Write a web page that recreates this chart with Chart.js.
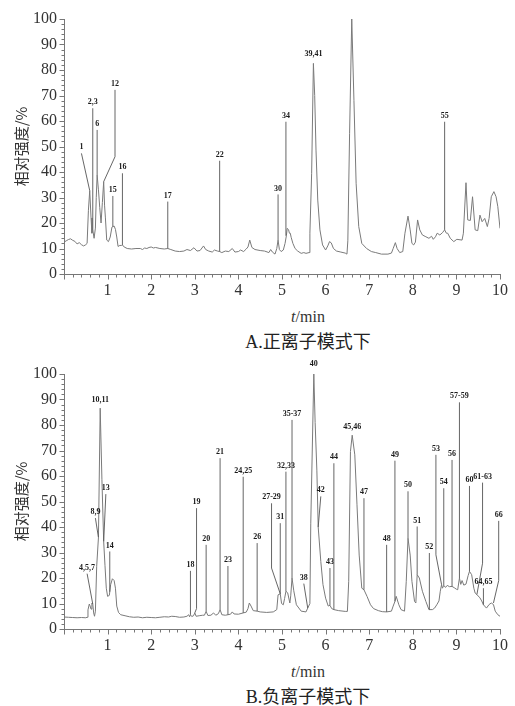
<!DOCTYPE html>
<html><head><meta charset="utf-8">
<script src="https://cdn.jsdelivr.net/npm/chart.js@4.4.1/dist/chart.umd.min.js"></script>
<style>
html,body{margin:0;padding:0;background:#fff;}
body{width:515px;height:706px;position:relative;overflow:hidden;}
.wrap{position:absolute;left:0;width:515px;height:300px;}
.wrap canvas{display:block;}
.xt{position:absolute;width:200px;margin-left:-100px;text-align:center;font-family:"Liberation Serif","DejaVu Serif";font-size:16px;color:#333;line-height:20px;}
.cap{position:absolute;width:240px;margin-left:-120px;text-align:center;font-family:"Liberation Serif","DejaVu Serif","Noto Sans CJK SC";font-size:18px;color:#222;line-height:22px;}
</style>
</head><body>
<div class="wrap" style="top:0"><canvas id="cA" width="515" height="300"></canvas></div>
<div class="xt" style="left:308px;top:307px"><i>t</i>/min</div>
<div class="cap" style="left:308px;top:331px">A.正离子模式下</div>
<div class="wrap" style="top:355px"><canvas id="cB" width="515" height="300"></canvas></div>
<div class="xt" style="left:308px;top:662px"><i>t</i>/min</div>
<div class="cap" style="left:308px;top:686px">B.负离子模式下</div>
<script>
// ---------- data: panel A (positive ion mode) ----------
const timeA = [0.00,0.05,0.10,0.15,0.20,0.25,0.30,0.35,0.40,0.45,0.50,0.53,0.56,0.59,0.62,0.64,0.66,0.69,0.72,0.74,0.76,0.79,0.82,0.85,0.88,0.91,0.93,0.95,0.98,1.02,1.06,1.10,1.12,1.15,1.18,1.21,1.24,1.28,1.32,1.34,1.38,1.45,1.55,1.65,1.75,1.80,1.85,1.90,1.95,2.00,2.05,2.10,2.20,2.30,2.38,2.45,2.55,2.65,2.75,2.82,2.90,2.98,3.05,3.12,3.20,3.25,3.32,3.40,3.45,3.52,3.57,3.62,3.70,3.78,3.86,3.92,4.00,4.05,4.12,4.18,4.22,4.26,4.31,4.38,4.50,4.60,4.70,4.74,4.78,4.84,4.88,4.91,4.94,4.98,5.03,5.07,5.10,5.12,5.15,5.17,5.19,5.21,5.25,5.30,5.36,5.44,5.50,5.55,5.62,5.64,5.68,5.72,5.75,5.78,5.82,5.87,5.93,6.00,6.05,6.09,6.13,6.18,6.25,6.35,6.45,6.49,6.51,6.55,6.60,6.65,6.70,6.76,6.83,6.94,7.05,7.15,7.28,7.43,7.51,7.55,7.60,7.64,7.70,7.77,7.82,7.89,7.94,7.98,8.02,8.06,8.11,8.16,8.22,8.30,8.37,8.43,8.47,8.52,8.56,8.62,8.68,8.73,8.77,8.80,8.86,8.94,9.01,9.13,9.16,9.22,9.26,9.32,9.37,9.43,9.49,9.54,9.59,9.65,9.71,9.75,9.80,9.86,9.91,9.95,10.00];
const intensityA = [12.5,13.0,13.5,13.8,13.2,12.8,11.8,12.3,11.5,11.0,11.5,12.0,25,32.7,22,16,17.3,14.0,18,30,38.8,33,26,20,28,36.2,27,22,13.3,12.7,14.5,18.4,18.6,18.8,17.5,14.5,10.8,11.2,11.2,11.4,10.6,10.0,9.8,10.0,10.0,9.6,10.2,10.0,10.4,10.6,10.2,10.4,10.0,9.8,10.0,9.6,9.0,8.8,9.0,9.6,9.2,10.3,9.0,9.2,11.0,9.6,9.0,8.6,9.4,9.0,8.8,8.4,9.0,8.8,10.0,8.6,8.8,9.4,8.8,9.8,10.6,13.3,10.4,9.6,9.2,9.0,8.4,9.6,8.6,7.8,10,13.3,9.6,8.8,9.4,12,15,17.9,17.4,16.0,16.0,14.4,12.0,10.0,9.0,8.1,8.4,8.1,8.4,16,39.5,82.6,70,48.6,29,17.3,11.4,9.4,11,12.7,12.2,10,9.0,8.6,8.2,7.8,13,55,100,68,35.6,18.6,12,10,8.8,8.4,7.8,7.8,8.2,10,12.3,10,8.4,8.8,16,22.7,17.3,12,11.4,12.5,21.2,17.3,15.3,14.6,14,14.8,13.6,14.6,16,15.3,16.2,17.3,16,16,14,12.7,13.6,13.3,16,35.8,21.2,21,30.3,17.3,17,23.1,20.5,21.8,18.6,21.8,30.3,32.3,30.3,26.4,17.9];
const peakLabelsA = ['1','2,3','6','12','15','16','17','22','30','34','39,41','55'];
const peakPathsA = [
  [[0.40,47.3],[0.59,32.7]],
  [[0.66,65],[0.66,17.3]],
  [[0.76,56.5],[0.76,38.8]],
  [[1.17,72.2],[1.17,46],[0.91,36.2]],
  [[1.12,30.6],[1.12,18.6]],
  [[1.34,39.5],[1.34,11.4]],
  [[2.38,28.4],[2.38,10.0]],
  [[3.57,44.4],[3.57,8.8]],
  [[4.91,31.2],[4.91,13.3]],
  [[5.09,59.7],[5.09,15]],
  [[5.72,84]],
  [[8.73,59.7],[8.73,17.3]]
];

// ---------- data: panel B (negative ion mode) ----------
const timeB = [0.00,0.10,0.20,0.30,0.40,0.50,0.53,0.55,0.58,0.60,0.62,0.64,0.66,0.68,0.70,0.72,0.75,0.79,0.83,0.87,0.91,0.94,0.97,1.00,1.04,1.07,1.11,1.15,1.18,1.21,1.25,1.30,1.40,1.50,1.60,1.70,1.80,1.90,2.00,2.10,2.20,2.30,2.40,2.47,2.55,2.65,2.75,2.82,2.86,2.88,2.90,2.93,2.97,3.00,3.03,3.10,3.18,3.22,3.26,3.30,3.37,3.43,3.48,3.54,3.58,3.62,3.70,3.76,3.82,3.86,3.90,4.00,4.11,4.18,4.22,4.25,4.29,4.34,4.43,4.50,4.65,4.80,4.88,4.91,4.96,4.99,5.03,5.06,5.09,5.13,5.18,5.20,5.23,5.27,5.33,5.44,5.55,5.59,5.64,5.66,5.73,5.76,5.80,5.83,5.89,5.94,6.00,6.06,6.10,6.14,6.19,6.30,6.45,6.50,6.53,6.57,6.61,6.67,6.72,6.77,6.83,6.88,6.95,7.03,7.10,7.21,7.30,7.40,7.51,7.55,7.59,7.62,7.68,7.73,7.81,7.85,7.89,7.94,7.98,8.04,8.07,8.10,8.15,8.22,8.30,8.37,8.45,8.50,8.55,8.60,8.63,8.66,8.68,8.71,8.75,8.79,8.84,8.90,8.95,9.00,9.03,9.07,9.10,9.13,9.17,9.22,9.27,9.30,9.35,9.40,9.43,9.47,9.54,9.58,9.62,9.69,9.75,9.80,9.85,9.89,9.95,10.00];
const intensityB = [4.7,4.6,4.5,4.4,4.5,4.4,4.6,7.5,9.8,9.0,7.8,10.2,9.8,6.3,5.0,7,24.6,35.9,86.6,58.5,34.3,25,16,12.8,13.2,17.4,19.7,19.0,16,9,6.5,5.6,5.2,4.8,4.6,4.7,4.4,4.6,4.5,4.4,4.6,4.8,4.7,5.0,4.9,4.6,4.7,5.0,5.6,4.8,5.6,4.9,5.2,6.3,5.0,5.2,5.4,5.4,6.9,5.3,5.4,6.3,5.4,6.0,7.6,5.6,5.4,5.6,5.8,6.7,5.9,5.8,6.3,6.6,8,10.2,9.0,7.2,7.0,6.7,6.5,6.7,7.6,13.4,13.8,10,9.5,12,14.8,14.2,10.2,13,20,15,9.5,7.0,6.7,8.2,10,41.5,100,81,62,40,26.5,17.4,12.1,9.0,9.3,8.0,7.6,7.2,6.9,6.9,18.7,69.6,76,68.3,48.7,29,16,15.4,12.8,9.5,8.0,7.2,6.8,6.7,7.0,9,10.8,12.8,9.5,7.6,7.0,18.7,35.6,29,18.7,10.8,10.2,21.3,20,14.8,10.8,7.6,7.6,8.2,9.5,11,14.8,17.4,16,17.1,16.3,17.1,16.6,16.7,16.2,15.6,15.4,20,17.5,19,17.2,17.6,21,22.6,21.3,16,14.1,13.5,12.2,11,9.5,8.2,9.6,10.2,9.6,7,5.6,5.0];
const peakLabelsB = ['4,5,7','8,9','10,11','13','14','18','19','20','21','23','24,25','26','27-29','31','32,33','35-37','38','40','42','43','44','45,46','47','48','49','50','51','52','53','54','56','57-59','60','61-63','64,65','66'];
const peakPathsB = [
  [[0.53,21.7],[0.66,9.8]],
  [[0.72,43.5],[0.79,35.9]],
  [[0.83,87.5]],
  [[0.96,52.9],[0.91,34.3]],
  [[1.05,30.4],[1.05,14.6]],
  [[2.90,22.8],[2.90,5.6]],
  [[3.04,47.4],[3.04,8],[3.00,6.3]],
  [[3.26,33],[3.26,6.9]],
  [[3.58,67],[3.58,7.6]],
  [[3.76,24.7],[3.76,5.6]],
  [[4.11,59.7],[4.11,6.3]],
  [[4.43,33.7],[4.43,7.0]],
  [[4.76,49.3],[4.76,23.9],[4.96,13.8]],
  [[4.96,41.5],[4.96,13.8]],
  [[5.09,61.7],[5.09,14.8]],
  [[5.23,82],[5.23,20]],
  [[5.50,17.8],[5.59,8.2]],
  [[5.73,101.5]],
  [[5.89,52],[5.83,40]],
  [[6.10,23.9],[6.10,9.3]],
  [[6.19,65],[6.19,7.6]],
  [[6.61,77]],
  [[6.88,51.3],[6.88,15.4]],
  [[7.40,33],[7.40,6.7]],
  [[7.59,66],[7.59,10.8]],
  [[7.89,54],[7.89,35.6]],
  [[8.10,40.2],[8.10,21.3]],
  [[8.38,29.8],[8.38,7.6]],
  [[8.53,68.3],[8.53,29.1],[8.66,17.4]],
  [[8.71,55.2],[8.71,17.1]],
  [[8.90,66.3],[8.90,16.7]],
  [[9.07,88.9],[9.07,20]],
  [[9.30,56.1],[9.30,22.6]],
  [[9.60,57.4],[9.60,25.8],[9.47,13.5]],
  [[9.62,16],[9.62,9.5]],
  [[9.97,42.4],[9.97,19],[9.85,10.2]]
];

// axis settings
const xMin = 0, xMax = 10, xMajorStep = 1, xMinorStep = 0.2;
const yMin = 0, yMax = 100, yMajorStep = 10, yMinorStep = 2;
const yTitle = '相对强度/%';
const serifFamily = '"Liberation Serif", "DejaVu Serif"';

// ---------- drawing ----------
const annotPlugin = {
  id: 'peakAnnot',
  afterDatasetsDraw(chart, args, opts) {
    const {ctx, scales: {x, y}} = chart;
    ctx.save();
    ctx.strokeStyle = '#777';
    ctx.lineWidth = 1;
    ctx.beginPath();
    const base = Math.round(y.getPixelForValue(yMin)) + 0.5;
    const n = Math.round((xMax - xMin) / xMinorStep);
    for (let i = 0; i <= n; i++) {
      const v = xMin + i * xMinorStep;
      const px = Math.round(x.getPixelForValue(v)) + 0.5;
      const major = Math.abs(v / xMajorStep - Math.round(v / xMajorStep)) < 1e-6;
      ctx.moveTo(px, base);
      ctx.lineTo(px, base + (major ? 5 : 3));
    }
    const left = Math.round(x.getPixelForValue(xMin)) + 0.5;
    const m = Math.round((yMax - yMin) / yMinorStep);
    for (let i = 0; i <= m; i++) {
      const v = yMin + i * yMinorStep;
      const py = Math.round(y.getPixelForValue(v)) + 0.5;
      const major = Math.abs(v / yMajorStep - Math.round(v / yMajorStep)) < 1e-6;
      ctx.moveTo(left, py);
      ctx.lineTo(left - (major ? 5 : 3), py);
    }
    ctx.stroke();
    const labels = opts.labels, paths = opts.paths;
    ctx.strokeStyle = '#555';
    ctx.lineWidth = 0.9;
    ctx.fillStyle = '#1a1a1a';
    ctx.font = 'bold 8px ' + serifFamily;
    ctx.textAlign = 'center';
    ctx.textBaseline = 'bottom';
    labels.forEach((lab, i) => {
      const p = paths[i];
      if (p.length > 1) {
        ctx.beginPath();
        p.forEach((pt, k) => {
          const px = x.getPixelForValue(pt[0]), py = y.getPixelForValue(pt[1]);
          if (k === 0) ctx.moveTo(px, py); else ctx.lineTo(px, py);
        });
        ctx.stroke();
      }
      const tx = x.getPixelForValue(p[0][0]), ty = y.getPixelForValue(p[0][1]);
      ctx.fillText(lab, tx, ty - 2);
    });
    ctx.restore();
  }
};

function makeChart(id, times, vals, labels, paths) {
  const pts = times.map((t, i) => ({x: t, y: vals[i]}));
  return new Chart(document.getElementById(id), {
    type: 'line',
    data: {datasets: [{data: pts, borderColor: '#7a7a7a', borderWidth: 1, pointRadius: 0, tension: 0, fill: false}]},
    options: {
      responsive: false, animation: false, devicePixelRatio: 1,
      layout: {padding: {top: 19, right: 8, left: 0, bottom: 0}},
      plugins: {legend: {display: false}, tooltip: {enabled: false}, peakAnnot: {labels, paths}},
      scales: {
        x: {
          type: 'linear', min: xMin, max: xMax,
          grid: {display: false, drawTicks: false},
          border: {display: true, color: '#777', width: 1},
          ticks: {stepSize: xMajorStep, autoSkip: false, maxRotation: 0, padding: 7, color: '#333',
                  font: {family: serifFamily, size: 16},
                  callback: v => (v === 0 ? '' : v)},
          afterFit: s => { s.height = 26; }
        },
        y: {
          type: 'linear', min: yMin, max: yMax,
          grid: {display: false, drawTicks: false},
          border: {display: true, color: '#777', width: 1},
          ticks: {stepSize: yMajorStep, padding: 7, color: '#333',
                  font: {family: serifFamily, size: 16}},
          title: {display: true, text: yTitle, color: '#333', padding: {top: 12, bottom: 0},
                  font: {family: '"Noto Sans CJK SC"', size: 15}},
          afterFit: s => { s.width = 64; }
        }
      }
    },
    plugins: [annotPlugin]
  });
}

makeChart('cA', timeA, intensityA, peakLabelsA, peakPathsA);
makeChart('cB', timeB, intensityB, peakLabelsB, peakPathsB);
</script>
</body></html>
